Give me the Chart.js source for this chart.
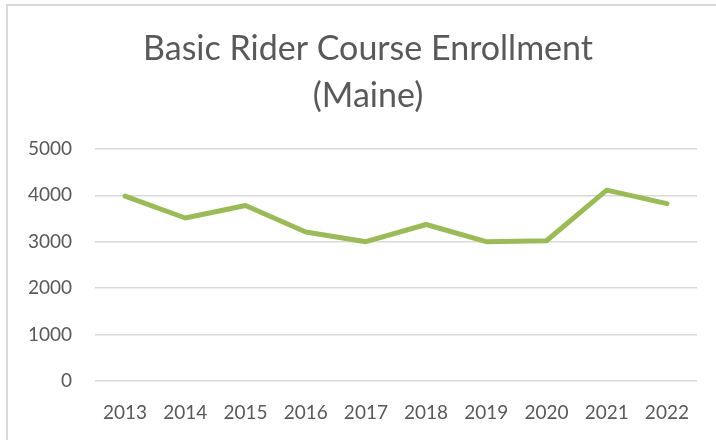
<!DOCTYPE html>
<html>
<head>
<meta charset="utf-8">
<script src="https://cdn.jsdelivr.net/npm/chart.js@4/dist/chart.umd.min.js"></script>
<style>
  html, body { margin: 0; padding: 0; background: #fff; }
  #wrap { position: relative; width: 716px; height: 440px; overflow: hidden; }
  #frame { position: absolute; left: 6px; top: 4px; width: 740px; height: 460px;
           border: 2px solid #d9d9d9; box-sizing: border-box; pointer-events: none; }
  canvas { position: absolute; left: 0; top: 0; }
</style>
</head>
<body>
<div id="wrap">
  <canvas id="chart" width="716" height="440"></canvas>
  <div id="frame"></div>
</div>
<script>
//*Data
const years = ['2013', '2014', '2015', '2016', '2017', '2018', '2019', '2020', '2021', '2022']
const enrollment = [3980, 3510, 3780, 3210, 3000, 3370, 3000, 3020, 4110, 3820]
const titleLines = ['Basic Rider Course Enrollment', '(Maine)']

const grey = '#595959'

const ctx = document.getElementById('chart').getContext('2d')
const chart = new Chart(ctx, {
  type: 'line',
  data: {
    labels: years,
    datasets: [
      {
        label: 'Enrollment',
        data: enrollment,
        borderColor: '#9bbb59',
        borderWidth: 5,
        borderJoinStyle: 'round',
        borderCapStyle: 'round',
        pointRadius: 0,
        tension: 0,
        fill: false,
      },
    ],
  },
  options: {
    responsive: false,
    animation: false,
    //? left padding pushes the title centre right, like the original
    layout: { padding: { left: 20, right: 0, top: 0, bottom: 0 } },
    plugins: {
      legend: { display: false },
      tooltip: { enabled: false },
      title: {
        display: true,
        text: titleLines,
        color: grey,
        font: { family: 'Lato', size: 34, weight: 'normal', lineHeight: 1.38 },
        padding: { top: 26, bottom: 29 },
      },
    },
    scales: {
      x: {
        offset: true,
        grid: { display: false, drawTicks: false },
        border: { display: false },
        ticks: { color: grey, font: { family: 'Lato', size: 19 }, padding: 20, maxRotation: 0 },
        afterFit: (scale) => { scale.height = 59 },
      },
      y: {
        min: 0,
        max: 5000,
        ticks: {
          stepSize: 1000,
          color: grey,
          font: { family: 'Lato', size: 19 },
          padding: 23,
          callback: (v) => String(v),
        },
        grid: { color: '#d9d9d9', lineWidth: 1.5, drawTicks: false },
        border: { display: false },
        afterFit: (scale) => { scale.width = 75 },
      },
      //! empty right axis only reserves the right margin
      yRight: {
        position: 'right',
        min: 0,
        max: 5000,
        ticks: { display: false },
        grid: { display: false, drawTicks: false },
        border: { display: false },
        afterFit: (scale) => { scale.width = 19 },
      },
    },
  },
})
</script>
</body>
</html>
